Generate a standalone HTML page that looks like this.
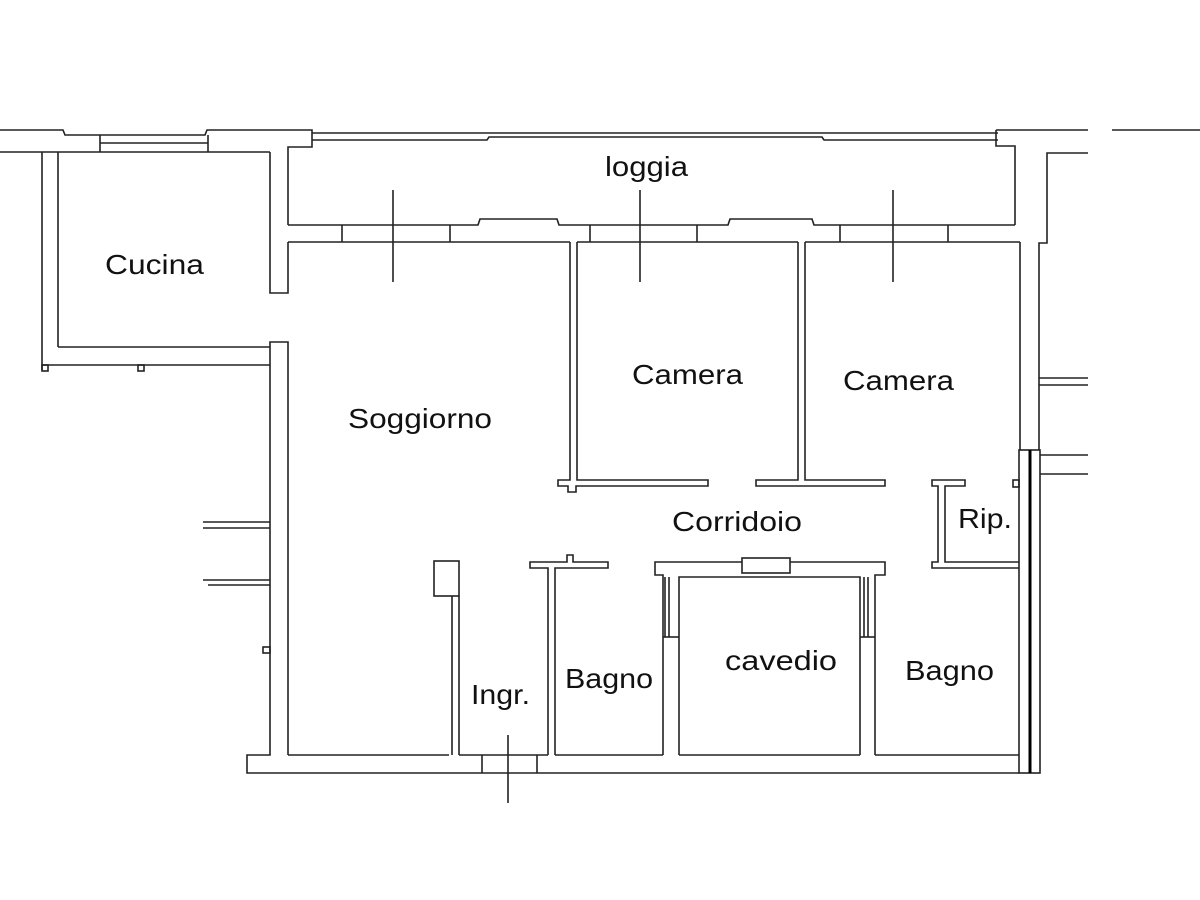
<!DOCTYPE html>
<html><head><meta charset="utf-8"><style>
html,body{margin:0;padding:0;background:#fff;}
svg{display:block;}
text{font-family:"Liberation Sans",sans-serif;font-size:28px;fill:#111;}
</style></head><body>
<svg width="1200" height="900" viewBox="0 0 1200 900" xmlns="http://www.w3.org/2000/svg">
<g fill="none" stroke="#222" stroke-width="1.6">
<polyline points="0,130 63,130 65,135 205,135 207,130 312,130 312,147 288,147 288,225"/>
<line x1="0" y1="152" x2="270" y2="152"/>
<line x1="100" y1="135" x2="100" y2="152"/>
<line x1="208" y1="135" x2="208" y2="152"/>
<line x1="100" y1="143" x2="208" y2="143"/>
<line x1="42" y1="152" x2="42" y2="370"/>
<line x1="58" y1="152" x2="58" y2="347"/>
<line x1="58" y1="347" x2="270" y2="347"/>
<line x1="42" y1="365" x2="270" y2="365"/>
<rect x="42" y="365" width="6" height="6"/>
<rect x="138" y="365" width="6" height="6"/>
<polyline points="270,152 270,293 288,293 288,242"/>
<polyline points="312,133 998,133"/>
<polyline points="312,140 487,140 489,137 822,137 824,140 998,140"/>
<polyline points="996,130 1088,130"/>
<line x1="1112" y1="130" x2="1200" y2="130"/>
<polyline points="996,130 996,146 1015,146 1015,225"/>
<polyline points="288,225 478,225 480,219 557,219 559,225 728,225 730,219 812,219 814,225 1015,225"/>
<line x1="288" y1="242" x2="570" y2="242"/>
<line x1="577" y1="242" x2="798" y2="242"/>
<line x1="805" y1="242" x2="1020" y2="242"/>
<line x1="342" y1="225" x2="342" y2="242"/>
<line x1="450" y1="225" x2="450" y2="242"/>
<line x1="590" y1="225" x2="590" y2="242"/>
<line x1="697" y1="225" x2="697" y2="242"/>
<line x1="840" y1="225" x2="840" y2="242"/>
<line x1="948" y1="225" x2="948" y2="242"/>
<line x1="393" y1="190" x2="393" y2="282"/>
<line x1="640" y1="190" x2="640" y2="282"/>
<line x1="893" y1="190" x2="893" y2="282"/>
<polyline points="1088,153 1047,153 1047,243 1039,243 1039,450"/>
<line x1="1039" y1="378" x2="1088" y2="378"/>
<line x1="1039" y1="385" x2="1088" y2="385"/>
<line x1="1020" y1="242" x2="1020" y2="450"/>
<rect x="1019" y="450" width="21" height="323"/>
<line x1="1040" y1="455" x2="1088" y2="455"/>
<line x1="1040" y1="474" x2="1088" y2="474"/>
<rect x="1013" y="480" width="6" height="7"/>
<polyline points="288,755 288,342 270,342 270,755 247,755 247,773 1019,773"/>
<line x1="203" y1="522" x2="270" y2="522"/>
<line x1="203" y1="528" x2="270" y2="528"/>
<line x1="203" y1="580" x2="270" y2="580"/>
<line x1="208" y1="585" x2="270" y2="585"/>
<rect x="263" y="647" width="7" height="6"/>
<line x1="288" y1="755" x2="449" y2="755"/>
<line x1="459" y1="755" x2="548" y2="755"/>
<line x1="555" y1="755" x2="663" y2="755"/>
<line x1="679" y1="755" x2="860" y2="755"/>
<line x1="875" y1="755" x2="1019" y2="755"/>
<line x1="482" y1="755" x2="482" y2="773"/>
<line x1="537" y1="755" x2="537" y2="773"/>
<line x1="508" y1="735" x2="508" y2="803"/>
<rect x="434" y="561" width="25" height="35"/>
<polyline points="452,596 452,755"/>
<polyline points="459,596 459,755"/>
<polyline points="570,242 570,480 558,480 558,486 568,486 568,492 576,492 576,486 708,486 708,480 577,480 577,242"/>
<polyline points="798,242 798,480 756,480 756,486 885,486 885,480 805,480 805,242"/>
<polyline points="548,755 548,568 530,568 530,562 567,562 567,555 573,555 573,562 608,562 608,568 555,568 555,755"/>
<polyline points="663,755 663,575 655,575 655,562 885,562 885,575 875,575 875,755"/>
<polyline points="679,755 679,577 860,577 860,755"/>
<line x1="665" y1="577" x2="665" y2="637"/>
<line x1="669" y1="577" x2="669" y2="637"/>
<line x1="663" y1="637" x2="679" y2="637"/>
<line x1="864" y1="577" x2="864" y2="637"/>
<line x1="868" y1="577" x2="868" y2="637"/>
<line x1="860" y1="637" x2="875" y2="637"/>
<rect x="742" y="558" width="48" height="15" fill="#fff"/>
<polyline points="1019,562 945,562 945,486 965,486 965,480 932,480 932,486 938,486 938,562 932,562 932,568 1019,568"/>
</g>
<line x1="1030" y1="450" x2="1030" y2="773" stroke="#000" stroke-width="3"/>
<g lengthAdjust="spacingAndGlyphs">
<text x="605" y="176" textLength="83" lengthAdjust="spacingAndGlyphs">loggia</text>
<text x="105" y="274" textLength="99" lengthAdjust="spacingAndGlyphs">Cucina</text>
<text x="348" y="428" textLength="144" lengthAdjust="spacingAndGlyphs">Soggiorno</text>
<text x="632" y="384" textLength="111" lengthAdjust="spacingAndGlyphs">Camera</text>
<text x="843" y="390" textLength="111" lengthAdjust="spacingAndGlyphs">Camera</text>
<text x="672" y="531" textLength="130" lengthAdjust="spacingAndGlyphs">Corridoio</text>
<text x="958" y="528" textLength="54" lengthAdjust="spacingAndGlyphs">Rip.</text>
<text x="471" y="704" textLength="59" lengthAdjust="spacingAndGlyphs">Ingr.</text>
<text x="565" y="688" textLength="88" lengthAdjust="spacingAndGlyphs">Bagno</text>
<text x="725" y="670" textLength="112" lengthAdjust="spacingAndGlyphs">cavedio</text>
<text x="905" y="680" textLength="89" lengthAdjust="spacingAndGlyphs">Bagno</text>
</g>
</svg>
</body></html>
